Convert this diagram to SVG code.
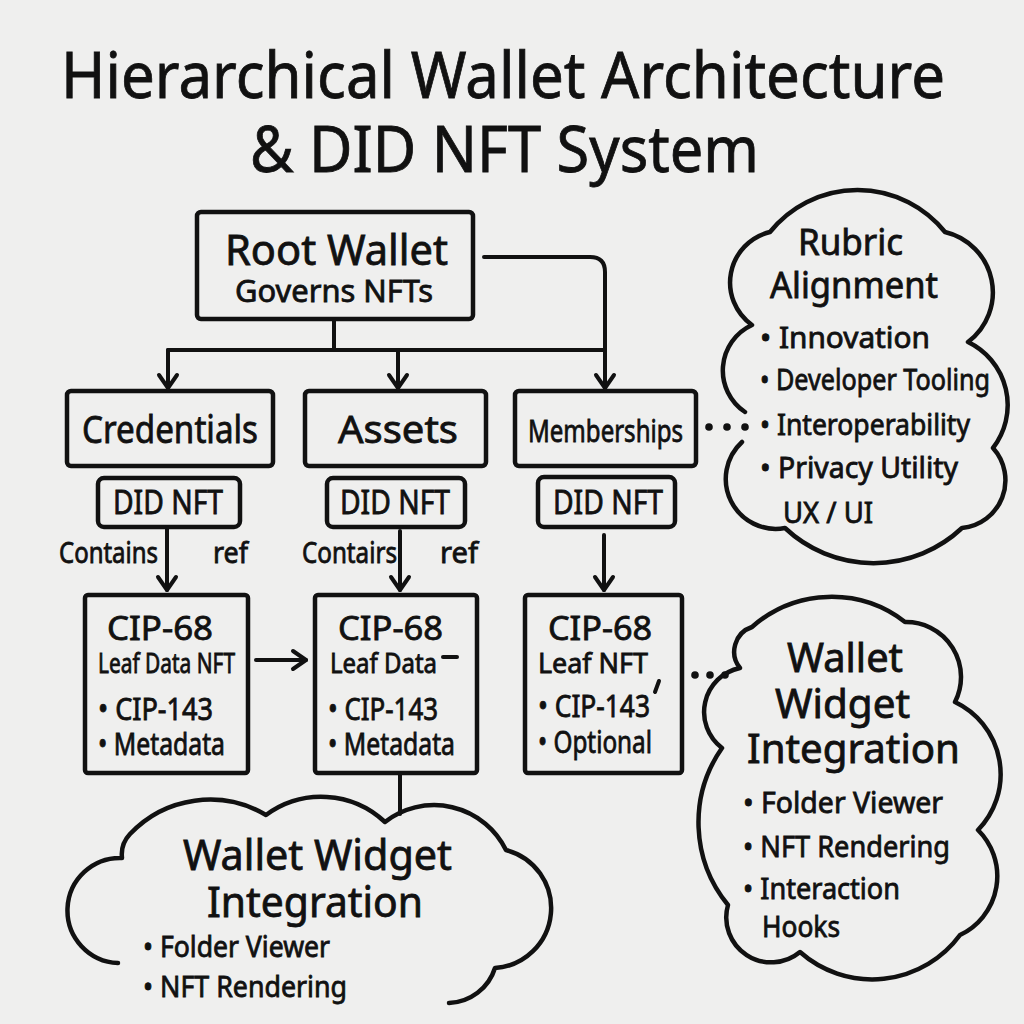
<svg xmlns="http://www.w3.org/2000/svg" width="1024" height="1024" viewBox="0 0 1024 1024">
<defs>
<style>
text{font-family:"Noto Sans","DejaVu Sans",sans-serif;fill:#111;stroke:#111;stroke-width:0.8px;}
.box{fill:none;stroke:#111;stroke-width:4.5;stroke-linejoin:round;}
.cloud{fill:none;stroke:#111;stroke-width:4.5;stroke-linecap:round;stroke-linejoin:round;}
.ln{fill:none;stroke:#111;stroke-width:4;stroke-linecap:round;stroke-linejoin:round;}
.arr{marker-end:url(#ah);}
.dot{fill:#111;}
</style>
<marker id="ah" viewBox="0 0 20 20" refX="18" refY="10" markerWidth="20" markerHeight="20" markerUnits="userSpaceOnUse" orient="auto" overflow="visible">
<path d="M5 1 L18 10 L5 19" fill="none" stroke="#111" stroke-width="4" stroke-linecap="round" stroke-linejoin="round"/>
</marker>
</defs>
<rect width="1024" height="1024" fill="#efefee"/>

<g id="title">
<text x="61" y="98" font-size="64" textLength="884" lengthAdjust="spacingAndGlyphs">Hierarchical Wallet Architecture</text>
<text x="250" y="172" font-size="64" textLength="509" lengthAdjust="spacingAndGlyphs">&amp; DID NFT System</text>
</g>

<g id="connectors">
<path class="ln" d="M334 319 V350"/>
<path class="ln" d="M168 350 H605"/>
<path class="ln arr" d="M168 350 V388"/>
<path class="ln arr" d="M398 350 V388"/>
<path class="ln arr" d="M484 257 H590 Q605 257 605 272 V388"/>
<path class="ln arr" d="M167 528 V590"/>
<path class="ln arr" d="M400 531 V590"/>
<path class="ln arr" d="M604 535 V590"/>
<path class="ln arr" d="M256 660 H306"/>
<path class="ln" d="M400 773 V814"/>
<circle class="dot" cx="709" cy="427" r="3.8"/>
<circle class="dot" cx="727" cy="427" r="3.8"/>
<circle class="dot" cx="745" cy="427" r="3.8"/>
<circle class="dot" cx="695" cy="675" r="3.8"/>
<circle class="dot" cx="710" cy="675" r="3.8"/>
<circle class="dot" cx="725" cy="675" r="3.8"/>
</g>

<g id="root-wallet">
<rect class="box" x="197" y="212" width="276" height="107" rx="4"/>
<text x="225" y="265" font-size="42" textLength="223" lengthAdjust="spacingAndGlyphs">Root Wallet</text>
<text x="235" y="302" font-size="31" textLength="198" lengthAdjust="spacingAndGlyphs">Governs NFTs</text>
</g>

<g id="credentials">
<rect class="box" x="67" y="391" width="206" height="75" rx="4"/>
<text x="82" y="443" font-size="38" textLength="176" lengthAdjust="spacingAndGlyphs">Credentials</text>
</g>
<g id="assets">
<rect class="box" x="305" y="391" width="181" height="75" rx="4"/>
<text x="338" y="443" font-size="38" textLength="120" lengthAdjust="spacingAndGlyphs">Assets</text>
</g>
<g id="memberships">
<rect class="box" x="515" y="391" width="181" height="75" rx="4"/>
<text x="528" y="442" font-size="31" textLength="155" lengthAdjust="spacingAndGlyphs">Memberships</text>
</g>

<g id="did-nft-1">
<rect class="box" x="98" y="478" width="142" height="49" rx="6"/>
<text x="113" y="514" font-size="32" textLength="110" lengthAdjust="spacingAndGlyphs">DID NFT</text>
</g>
<g id="did-nft-2">
<rect class="box" x="327" y="478" width="138" height="49" rx="6"/>
<text x="340" y="514" font-size="32" textLength="110" lengthAdjust="spacingAndGlyphs">DID NFT</text>
</g>
<g id="did-nft-3">
<rect class="box" x="538" y="477" width="137" height="50" rx="6"/>
<text x="553" y="514" font-size="32" textLength="110" lengthAdjust="spacingAndGlyphs">DID NFT</text>
</g>

<g id="edge-labels">
<text x="59" y="563" font-size="29" textLength="99" lengthAdjust="spacingAndGlyphs">Contains</text>
<text x="213" y="563" font-size="29" textLength="35" lengthAdjust="spacingAndGlyphs">ref</text>
<text x="302" y="563" font-size="29" textLength="95" lengthAdjust="spacingAndGlyphs">Contairs</text>
<text x="440" y="563" font-size="29" textLength="38" lengthAdjust="spacingAndGlyphs">ref</text>
</g>

<g id="cip68-1">
<rect class="box" x="85" y="595" width="163" height="178" rx="3"/>
<text x="107" y="640" font-size="33" textLength="106" lengthAdjust="spacingAndGlyphs">CIP-68</text>
<text x="98" y="673" font-size="27" textLength="137" lengthAdjust="spacingAndGlyphs">Leaf Data NFT</text>
<text x="98" y="720" font-size="30" textLength="115" lengthAdjust="spacingAndGlyphs">• CIP-143</text>
<text x="98" y="755" font-size="30" textLength="127" lengthAdjust="spacingAndGlyphs">• Metadata</text>
</g>
<g id="cip68-2">
<rect class="box" x="315" y="595" width="162" height="178" rx="3"/>
<text x="338" y="640" font-size="33" textLength="105" lengthAdjust="spacingAndGlyphs">CIP-68</text>
<text x="330" y="673" font-size="27" textLength="107" lengthAdjust="spacingAndGlyphs">Leaf Data</text>
<path class="ln" d="M443 657 H457" stroke-width="3"/>
<text x="328" y="720" font-size="30" textLength="110" lengthAdjust="spacingAndGlyphs">• CIP-143</text>
<text x="328" y="755" font-size="30" textLength="127" lengthAdjust="spacingAndGlyphs">• Metadata</text>
</g>
<g id="cip68-3">
<rect class="box" x="525" y="595" width="157" height="178" rx="3"/>
<text x="548" y="640" font-size="33" textLength="104" lengthAdjust="spacingAndGlyphs">CIP-68</text>
<text x="538" y="673" font-size="27" textLength="110" lengthAdjust="spacingAndGlyphs">Leaf NFT</text>
<text x="538" y="717" font-size="30" textLength="112" lengthAdjust="spacingAndGlyphs">• CIP-143</text>
<path class="ln" d="M659 681 L655 692" stroke-width="2.5"/>
<text x="538" y="753" font-size="30" textLength="114" lengthAdjust="spacingAndGlyphs">• Optional</text>
</g>

<g id="rubric-alignment">
<path class="cloud" d="M745 412 A50 50 0 0 1 752 325 A52 52 0 0 1 770 232 A112 112 0 0 1 945 232 A62 62 0 0 1 968 342 A70 70 0 0 1 993 448 A48 48 0 0 1 962 528 A129 129 0 0 1 785 528 A50 50 0 0 1 742 442"/>
<text x="798" y="255" font-size="36" textLength="105" lengthAdjust="spacingAndGlyphs">Rubric</text>
<text x="770" y="298" font-size="36" textLength="168" lengthAdjust="spacingAndGlyphs">Alignment</text>
<text x="760" y="348" font-size="29" textLength="170" lengthAdjust="spacingAndGlyphs">• Innovation</text>
<text x="760" y="390" font-size="29" textLength="230" lengthAdjust="spacingAndGlyphs">• Developer Tooling</text>
<text x="760" y="435" font-size="29" textLength="210" lengthAdjust="spacingAndGlyphs">• Interoperability</text>
<text x="760" y="478" font-size="29" textLength="198" lengthAdjust="spacingAndGlyphs">• Privacy Utility</text>
<text x="783" y="523" font-size="29" textLength="90" lengthAdjust="spacingAndGlyphs">UX / UI</text>
</g>

<g id="wallet-widget-right">
<path class="cloud" d="M740 668 A26 26 0 0 1 752 627 A120 120 0 0 1 905 622 A55 55 0 0 1 955 702 A80 80 0 0 1 978 830 A65 65 0 0 1 960 935 A109 109 0 0 1 800 952 A45 45 0 0 1 728 905 A130 130 0 0 1 722 748 A45 45 0 0 1 740 668 Z"/>
<text x="787" y="672" font-size="40" textLength="116" lengthAdjust="spacingAndGlyphs">Wallet</text>
<text x="775" y="718" font-size="40" textLength="135" lengthAdjust="spacingAndGlyphs">Widget</text>
<text x="747" y="763" font-size="40" textLength="213" lengthAdjust="spacingAndGlyphs">Integration</text>
<text x="743" y="813" font-size="29" textLength="200" lengthAdjust="spacingAndGlyphs">• Folder Viewer</text>
<text x="743" y="857" font-size="29" textLength="207" lengthAdjust="spacingAndGlyphs">• NFT Rendering</text>
<text x="743" y="899" font-size="29" textLength="157" lengthAdjust="spacingAndGlyphs">• Interaction</text>
<text x="762" y="937" font-size="29" textLength="78" lengthAdjust="spacingAndGlyphs">Hooks</text>
</g>

<g id="wallet-widget-bottom">
<path class="cloud" d="M118 963 A50 50 0 0 1 122 858 A30 30 0 0 1 130 834 A110 110 0 0 1 266 815 A93 93 0 0 1 385 822 A80 80 0 0 1 506 850 A60 60 0 0 1 495 968 A50 50 0 0 1 449 1003"/>
<text x="183" y="870" font-size="42" textLength="269" lengthAdjust="spacingAndGlyphs">Wallet Widget</text>
<text x="207" y="917" font-size="42" textLength="216" lengthAdjust="spacingAndGlyphs">Integration</text>
<text x="143" y="957" font-size="29" textLength="187" lengthAdjust="spacingAndGlyphs">• Folder Viewer</text>
<text x="143" y="997" font-size="29" textLength="204" lengthAdjust="spacingAndGlyphs">• NFT Rendering</text>
</g>
</svg>
